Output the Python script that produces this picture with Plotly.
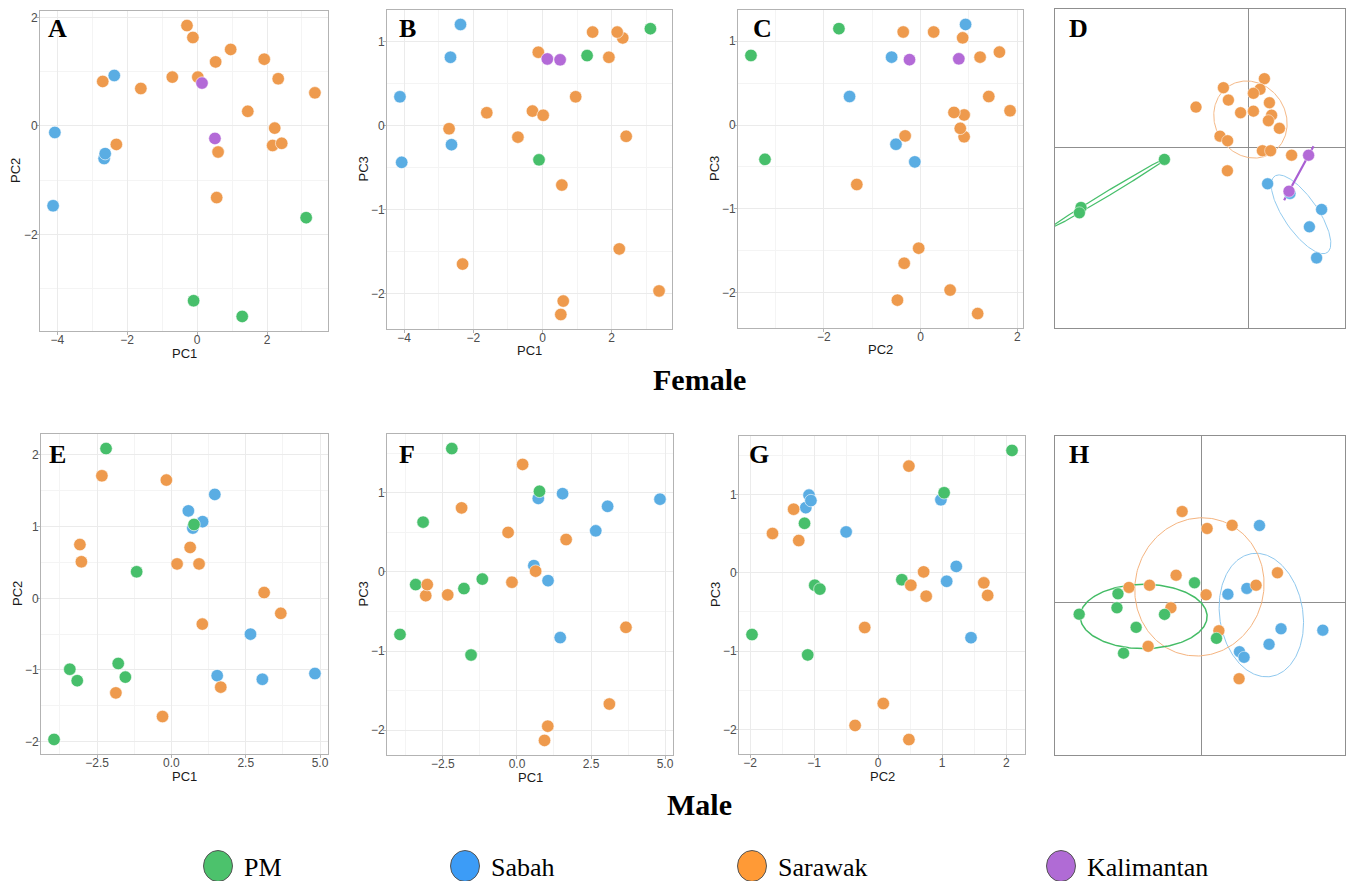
import numpy as np
import plotly.graph_objects as go

GROUPS = ["PM", "Sabah", "Sarawak", "Kalimantan"]

# ---------------- Female PCA scores ----------------
F_PM_PC1 = [3.12, 1.29, -0.10]
F_PM_PC2 = [-1.69, -3.51, -3.22]
F_PM_PC3 = [1.15, 0.83, -0.41]
F_SABAH_PC1 = [-2.37, -2.66, -4.12, -2.63, -4.07]
F_SABAH_PC2 = [0.93, -0.60, -1.47, -0.51, -0.12]
F_SABAH_PC3 = [1.20, 0.81, 0.34, -0.23, -0.44]
F_SARAWAK_PC1 = [-0.29, -0.12, 0.96, 0.53, 1.92, -0.71, 0.02, 2.32, -2.70,
                 -1.61, 3.37, 1.45, 2.22, -2.31, 2.16, 2.42, 0.60, 0.56]
F_SARAWAK_PC2 = [1.85, 1.63, 1.41, 1.18, 1.23, 0.90, 0.90, 0.87, 0.82,
                 0.69, 0.61, 0.27, -0.04, -0.34, -0.36, -0.32, -0.48, -1.32]
F_SARAWAK_PC3 = [0.17, 0.87, 0.34, -2.25, 0.81, -0.14, 0.12, 1.04, -0.04,
                 0.15, -1.97, 1.11, -1.47, -1.65, 1.11, -0.13, -2.09, -0.71]
F_KALI_PC1 = [0.14, 0.51]
F_KALI_PC2 = [0.79, -0.23]
F_KALI_PC3 = [0.79, 0.78]

# ---------------- Male PCA scores ----------------
M_PM_PC1 = [-2.20, 0.76, -1.17, -3.42, -3.17, -1.79, -1.55, -3.95]
M_PM_PC2 = [2.09, 1.03, 0.37, -0.99, -1.15, -0.91, -1.10, -1.97]
M_PM_PC3 = [1.56, 1.02, -0.09, -0.16, 0.63, -0.21, -1.05, -0.79]
M_SABAH_PC1 = [1.46, 0.57, 1.05, 0.72, 2.66, 1.54, 3.06, 4.83]
M_SABAH_PC2 = [1.45, 1.22, 1.07, 0.98, -0.50, -1.08, -1.13, -1.05]
M_SABAH_PC3 = [-0.83, 0.08, -0.11, 0.93, 0.52, 0.99, 0.83, 0.92]
M_SARAWAK_PC1 = [-2.34, -0.17, -3.08, -3.03, 0.63, 0.19, 0.93, 3.12, 3.68,
                 1.04, 1.66, -1.87, -0.30]
M_SARAWAK_PC2 = [1.71, 1.65, 0.75, 0.51, 0.71, 0.48, 0.48, 0.08, -0.21,
                 -0.36, -1.24, -1.32, -1.65]
M_SARAWAK_PC3 = [-0.29, -0.13, -0.30, -0.16, 0.01, 1.36, -2.13, -1.67, -0.70,
                 -1.95, 0.41, 0.81, 0.50]

# ---------------- DAPC scores (panel D, female) ----------------
D_PM_LD1 = [-4.18, -8.35, -8.43]
D_PM_LD2 = [-0.58, -2.98, -3.25]
D_SABAH_LD1 = [0.98, 2.10, 3.68, 3.07, 3.43]
D_SABAH_LD2 = [-1.80, -2.28, -3.08, -3.95, -5.50]
D_SARAWAK_LD1 = [0.82, -1.23, 0.60, 0.27, -0.98, 1.07, -2.60, -0.37, 0.27,
                 1.18, 1.02, 1.57, -1.40, -1.02, 0.72, 1.13, 2.18, -1.03]
D_SARAWAK_LD2 = [3.45, 3.00, 2.92, 2.72, 2.38, 2.25, 2.03, 1.75, 1.83,
                 1.63, 1.35, 0.97, 0.58, 0.35, -0.15, -0.15, -0.37, -1.15]
D_KALI_LD1 = [3.03, 2.05]
D_KALI_LD2 = [-0.37, -2.17]

# ---------------- DAPC scores (panel H, male) ----------------
H_PM_LD1 = [-4.18, -6.12, -4.23, -3.27, -1.85, -0.35, 0.75, -3.90]
H_PM_LD2 = [0.45, -0.57, -0.25, -1.23, -0.58, 1.00, -1.78, -2.52]
H_SABAH_LD1 = [2.90, 1.32, 2.27, 3.98, 6.07, 3.38, 1.90, 2.13]
H_SABAH_LD2 = [3.87, 0.43, 0.72, -1.30, -1.37, -2.08, -2.45, -2.73]
H_SARAWAK_LD1 = [-0.97, 0.28, 1.53, -1.27, -2.60, -3.63, 3.80, 2.73, 0.23,
                 -1.53, 0.87, -2.67, 1.88]
H_SARAWAK_LD2 = [4.57, 3.72, 3.88, 1.38, 0.88, 0.77, 1.50, 0.88, 0.40,
                 -0.25, -1.40, -2.18, -3.80]

FEMALE = {"PM": (F_PM_PC1, F_PM_PC2, F_PM_PC3),
          "Sabah": (F_SABAH_PC1, F_SABAH_PC2, F_SABAH_PC3),
          "Sarawak": (F_SARAWAK_PC1, F_SARAWAK_PC2, F_SARAWAK_PC3),
          "Kalimantan": (F_KALI_PC1, F_KALI_PC2, F_KALI_PC3)}
MALE = {"PM": (M_PM_PC1, M_PM_PC2, M_PM_PC3),
        "Sabah": (M_SABAH_PC1, M_SABAH_PC2, M_SABAH_PC3),
        "Sarawak": (M_SARAWAK_PC1, M_SARAWAK_PC2, M_SARAWAK_PC3)}
D_DATA = {"Sarawak": (D_SARAWAK_LD1, D_SARAWAK_LD2),
          "Sabah": (D_SABAH_LD1, D_SABAH_LD2),
          "PM": (D_PM_LD1, D_PM_LD2),
          "Kalimantan": (D_KALI_LD1, D_KALI_LD2)}
H_DATA = {"Sabah": (H_SABAH_LD1, H_SABAH_LD2),
          "Sarawak": (H_SARAWAK_LD1, H_SARAWAK_LD2),
          "PM": (H_PM_LD1, H_PM_LD2)}

# ---------------- styles ----------------
COLORS = {"PM": "#47BF6B", "Sabah": "#5AADE3", "Sarawak": "#EE9A4D", "Kalimantan": "#B36AD7"}
LEGEND_COLORS = {"PM": "#4CC26C", "Sabah": "#3C9CF7", "Sarawak": "#FF9A36", "Kalimantan": "#B06BD5"}
ELL_STYLE = {
    "D": {"Sarawak": ("#F5B987", 1.0), "Sabah": ("#93CBEF", 1.0),
          "PM": ("#47BF6B", 1.3), "Kalimantan": ("#A95FD3", 2.2)},
    "H": {"Sarawak": ("#F5B47F", 1.0), "Sabah": ("#8FC8EE", 1.0),
          "PM": ("#44BC66", 1.5)},
}
PCA_ORDER = ["Sabah", "PM", "Sarawak", "Kalimantan"]

W, H = 1351, 881
# panel frames in pixels: left, right, top, bottom
FRAMES = {"A": (40, 328, 11, 331), "B": (387, 672, 10, 329), "C": (738, 1023, 10, 328),
          "D": (1055, 1345, 9, 328), "E": (41, 328, 434, 754), "F": (387, 673, 434, 755),
          "G": (739, 1025, 436, 754), "H": (1055, 1345, 436, 755)}
LETTER_POS = {"A": (57, 28), "B": (407, 28), "C": (762, 28), "D": (1078, 28),
              "E": (57, 455), "F": (407, 455), "G": (759, 455), "H": (1079, 455)}
D_RANGE = ([-9.65, 4.85], [-9.0, 6.93])
H_RANGE = ([-7.33, 7.18], [-7.62, 8.35])
XTITLE_GAP, YTITLE_GAP = 22, 24

SANS = "Liberation Sans, Arial, sans-serif"
SERIF = "Liberation Serif, Times New Roman, serif"

# panel spec: (letter, dataset, x dim, y dim, x title, y title, x dtick, y dtick, x fmt)
PCA_PANELS = [
    ("A", FEMALE, 0, 1, "PC1", "PC2", 2, 2, None),
    ("B", FEMALE, 0, 2, "PC1", "PC3", 2, 1, None),
    ("C", FEMALE, 1, 2, "PC2", "PC3", 2, 1, None),
    ("E", MALE, 0, 1, "PC1", "PC2", 2.5, 1, ".1f"),
    ("F", MALE, 0, 2, "PC1", "PC3", 2.5, 1, ".1f"),
    ("G", MALE, 1, 2, "PC2", "PC3", 1, 1, None),
]
AX_INDEX = {"A": 1, "B": 2, "C": 3, "D": 4, "E": 5, "F": 6, "G": 7, "H": 8}


def dom_x(l, r):
    return [l / W, r / W]


def dom_y(t, b):
    return [1 - b / H, 1 - t / H]


def data_range(dataset, dim):
    vals = np.concatenate([np.asarray(v[dim], float) for v in dataset.values()])
    lo, hi = vals.min(), vals.max()
    pad = 0.05 * (hi - lo)
    return [lo - pad, hi + pad]


def ellipse(xs, ys, k=1.5, n=240):
    pts = np.column_stack([xs, ys]).astype(float)
    m = pts.mean(axis=0)
    cov = np.cov(pts.T, bias=True)
    vals, vecs = np.linalg.eigh(cov)
    vals = np.clip(vals, 0, None)
    t = np.linspace(0, 2 * np.pi, n)
    circ = np.vstack([np.cos(t), np.sin(t)])
    e = vecs @ (np.sqrt(vals)[:, None] * circ) * k
    return m[0] + e[0], m[1] + e[1]


fig = go.Figure()
layout = dict(width=W, height=H, margin=dict(l=0, r=0, t=0, b=0),
              paper_bgcolor="white", plot_bgcolor="white", showlegend=False,
              annotations=[], shapes=[])


def axis_keys(i):
    return ("xaxis" if i == 1 else f"xaxis{i}", "yaxis" if i == 1 else f"yaxis{i}",
            "x" if i == 1 else f"x{i}", "y" if i == 1 else f"y{i}")


tickfont = dict(family=SANS, size=12, color="#4D4D4D")
titlefont = dict(family=SANS, size=13, color="#1A1A1A")

for letter, ds, dx, dy, xt, yt, xdt, ydt, xfmt in PCA_PANELS:
    i = AX_INDEX[letter]
    xk, yk, xr, yr = axis_keys(i)
    l, r, t, b = FRAMES[letter]
    for g in PCA_ORDER:
        if g not in ds:
            continue
        fig.add_trace(go.Scatter(
            x=ds[g][dx], y=ds[g][dy], mode="markers", name=g, xaxis=xr, yaxis=yr,
            marker=dict(size=12.5, color=COLORS[g], line=dict(color="white", width=0.6)),
            hoverinfo="x+y+name"))
    common = dict(showline=True, mirror=True, linecolor="#B3B3B3", linewidth=1,
                  ticks="outside", ticklen=3, tickcolor="#B3B3B3", tickwidth=1,
                  showgrid=True, gridcolor="#EBEBEB", gridwidth=1, zeroline=False,
                  tickfont=tickfont, automargin=False, tick0=0)
    layout[xk] = dict(common, domain=dom_x(l, r), anchor=yr, range=data_range(ds, dx),
                      dtick=xdt, tickformat=xfmt if xfmt else "", ticklabelstandoff=-5,
                      minor=dict(dtick=xdt / 2, tick0=0, showgrid=True,
                                 gridcolor="#F4F4F4", gridwidth=0.6))
    layout[yk] = dict(common, domain=dom_y(t, b), anchor=xr, range=data_range(ds, dy),
                      dtick=ydt, ticklabelstandoff=-4,
                      minor=dict(dtick=ydt / 2, tick0=0, showgrid=True,
                                 gridcolor="#F4F4F4", gridwidth=0.6))
    # axis titles
    layout["annotations"].append(dict(
        text=xt, x=(l + r) / 2 / W, y=1 - (b + XTITLE_GAP) / H, xref="paper", yref="paper",
        xanchor="center", yanchor="middle", showarrow=False, font=titlefont))
    layout["annotations"].append(dict(
        text=yt, x=(l - YTITLE_GAP) / W, y=1 - (t + b) / 2 / H, xref="paper", yref="paper",
        xanchor="center", yanchor="middle", showarrow=False, textangle=-90, font=titlefont))

for letter, ds, rng in (("D", D_DATA, D_RANGE), ("H", H_DATA, H_RANGE)):
    i = AX_INDEX[letter]
    xk, yk, xr, yr = axis_keys(i)
    l, r, t, b = FRAMES[letter]
    for g, (xs, ys) in ds.items():
        ex, ey = ellipse(xs, ys)
        col, wid = ELL_STYLE[letter][g]
        fig.add_trace(go.Scatter(x=ex, y=ey, mode="lines", xaxis=xr, yaxis=yr,
                                 line=dict(color=col, width=wid), hoverinfo="skip"))
    for g, (xs, ys) in ds.items():
        fig.add_trace(go.Scatter(
            x=xs, y=ys, mode="markers", name=g, xaxis=xr, yaxis=yr,
            marker=dict(size=12, color=COLORS[g], line=dict(color="white", width=0.5)),
            hoverinfo="x+y+name"))
    frame = dict(showline=True, mirror=True, linecolor="#8F8F8F", linewidth=1,
                 ticks="", showticklabels=False, showgrid=False, zeroline=True,
                 zerolinecolor="#8F8F8F", zerolinewidth=1, automargin=False)
    layout[xk] = dict(frame, domain=dom_x(l, r), anchor=yr, range=rng[0])
    layout[yk] = dict(frame, domain=dom_y(t, b), anchor=xr, range=rng[1])

# panel letters
for letter, (px, py) in LETTER_POS.items():
    layout["annotations"].append(dict(
        text=f"<b>{letter}</b>", x=px / W, y=1 - py / H, xref="paper", yref="paper",
        xanchor="center", yanchor="middle", showarrow=False,
        font=dict(family=SERIF, size=26, color="black")))

# row titles
for txt, py in (("Female", 379), ("Male", 804)):
    layout["annotations"].append(dict(
        text=f"<b>{txt}</b>", x=699 / W, y=1 - py / H, xref="paper", yref="paper",
        xanchor="center", yanchor="middle", showarrow=False,
        font=dict(family=SERIF, size=30, color="black")))

# legend (keys drawn as shapes, labels as annotations)
LEGEND_CX = {"PM": 218, "Sabah": 465, "Sarawak": 752, "Kalimantan": 1061}
LEGEND_CY = 866
for g in GROUPS:
    cx = LEGEND_CX[g]
    layout["shapes"].append(dict(
        type="circle", xref="paper", yref="paper",
        x0=(cx - 14.5) / W, x1=(cx + 14.5) / W,
        y0=1 - (LEGEND_CY + 15.5) / H, y1=1 - (LEGEND_CY - 15.5) / H,
        fillcolor=LEGEND_COLORS[g], line=dict(color="#555555", width=1)))
    layout["annotations"].append(dict(
        text=g, x=(cx + 24) / W, y=1 - (LEGEND_CY + 1) / H, xref="paper", yref="paper",
        xanchor="left", yanchor="middle", showarrow=False,
        font=dict(family=SERIF, size=26, color="black")))

fig.update_layout(**layout)
fig.write_html("out.html", config={"displayModeBar": False},
               post_script="document.body.style.margin='0';document.body.style.overflow='hidden';")
